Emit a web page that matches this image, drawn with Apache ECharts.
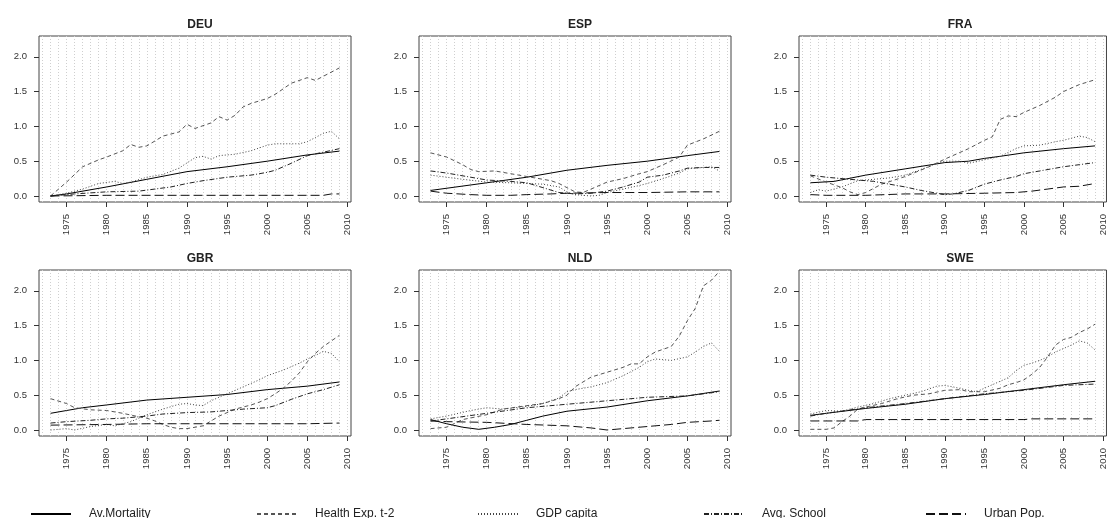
<!DOCTYPE html>
<html>
<head>
<meta charset="utf-8">
<script src="https://cdn.jsdelivr.net/npm/echarts@6/dist/echarts.min.js"></script>
<style>
  html, body { margin: 0; padding: 0; background: #fff; }
  #chart { width: 1108px; height: 518px; }
</style>
</head>
<body>
<div id="chart"></div>
<script>
// 国家与指标
const countries = ['DEU', 'ESP', 'FRA', 'GBR', 'NLD', 'SWE']
const seriesNames = ['Av.Mortality', 'Health Exp. t-2', 'GDP capita', 'Avg. School', 'Urban Pop.']
const gridYears = [1972, 1973, 1974, 1975, 1976, 1977, 1978, 1979, 1980, 1981, 1982, 1983, 1984, 1985, 1986, 1987, 1988, 1989, 1990, 1991, 1992, 1993, 1994, 1995, 1996, 1997, 1998, 1999, 2000, 2001, 2002, 2003, 2004, 2005, 2006, 2007, 2008, 2009, 2010]
const xTickYears = [1975, 1980, 1985, 1990, 1995, 2000, 2005, 2010]
const yTicks = [0, 0.5, 1, 1.5, 2]

// DEU
const deuMort = [[1973, 0.0], [1975, 0.03], [1980, 0.13], [1985, 0.24], [1990, 0.35], [1995, 0.42], [2000, 0.5], [2005, 0.59], [2009, 0.645]]
const deuHealth = [[1973, 0.0], [1974, 0.1], [1975, 0.2], [1977, 0.42], [1979, 0.52], [1980, 0.56], [1982, 0.65], [1983, 0.74], [1984, 0.7], [1985, 0.72], [1987, 0.86], [1989, 0.92], [1990, 1.03], [1991, 0.97], [1993, 1.05], [1994, 1.14], [1995, 1.09], [1996, 1.16], [1997, 1.28], [1998, 1.33], [2000, 1.4], [2001, 1.46], [2003, 1.62], [2005, 1.7], [2006, 1.66], [2007, 1.72], [2009, 1.84]]
const deuGdp = [[1973, 0.0], [1975, 0.04], [1977, 0.1], [1979, 0.18], [1981, 0.21], [1982, 0.18], [1983, 0.2], [1985, 0.27], [1987, 0.31], [1989, 0.4], [1991, 0.55], [1992, 0.57], [1993, 0.53], [1994, 0.58], [1996, 0.6], [1998, 0.65], [2000, 0.73], [2001, 0.75], [2004, 0.75], [2005, 0.78], [2006, 0.84], [2007, 0.9], [2008, 0.93], [2009, 0.82]]
const deuSchool = [[1973, 0.0], [1976, 0.03], [1980, 0.06], [1984, 0.07], [1986, 0.1], [1988, 0.13], [1990, 0.18], [1992, 0.22], [1995, 0.27], [1998, 0.3], [2000, 0.34], [2001, 0.37], [2003, 0.47], [2005, 0.58], [2007, 0.63], [2009, 0.68]]
const deuUrban = [[1973, 0.0], [1980, 0.01], [1990, 0.01], [2000, 0.01], [2007, 0.01], [2008, 0.03], [2009, 0.03]]

// ESP
const espMort = [[1973, 0.08], [1980, 0.19], [1985, 0.27], [1990, 0.37], [1995, 0.44], [2000, 0.5], [2005, 0.58], [2009, 0.64]]
const espHealth = [[1973, 0.62], [1975, 0.56], [1977, 0.45], [1978, 0.38], [1979, 0.35], [1981, 0.36], [1983, 0.32], [1985, 0.28], [1987, 0.24], [1988, 0.22], [1989, 0.18], [1990, 0.12], [1991, 0.06], [1992, 0.05], [1993, 0.1], [1995, 0.2], [1997, 0.25], [1999, 0.32], [2000, 0.35], [2002, 0.45], [2004, 0.56], [2005, 0.73], [2007, 0.82], [2009, 0.93]]
const espGdp = [[1973, 0.3], [1975, 0.27], [1977, 0.24], [1980, 0.2], [1983, 0.19], [1985, 0.18], [1987, 0.17], [1989, 0.13], [1990, 0.06], [1991, 0.02], [1993, 0.0], [1994, 0.01], [1995, 0.05], [1997, 0.1], [1999, 0.15], [2000, 0.18], [2002, 0.25], [2004, 0.33], [2005, 0.39], [2007, 0.41], [2008, 0.42], [2009, 0.36]]
const espSchool = [[1973, 0.36], [1975, 0.33], [1978, 0.27], [1980, 0.23], [1983, 0.21], [1985, 0.19], [1987, 0.12], [1989, 0.05], [1991, 0.03], [1993, 0.04], [1995, 0.07], [1997, 0.13], [1999, 0.2], [2000, 0.27], [2002, 0.3], [2004, 0.36], [2005, 0.4], [2007, 0.41], [2009, 0.41]]
const espUrban = [[1973, 0.07], [1975, 0.04], [1978, 0.02], [1980, 0.01], [1983, 0.01], [1985, 0.02], [1988, 0.03], [1990, 0.04], [1995, 0.05], [2000, 0.05], [2005, 0.06], [2009, 0.06]]

// FRA
const fraMort = [[1973, 0.19], [1976, 0.21], [1980, 0.3], [1985, 0.39], [1990, 0.48], [1993, 0.5], [1995, 0.54], [1997, 0.57], [2000, 0.62], [2005, 0.68], [2009, 0.72]]
const fraHealth = [[1973, 0.29], [1975, 0.2], [1977, 0.12], [1978, 0.06], [1979, 0.02], [1980, 0.05], [1982, 0.17], [1985, 0.28], [1988, 0.42], [1990, 0.53], [1993, 0.68], [1995, 0.8], [1996, 0.85], [1997, 1.1], [1998, 1.15], [1999, 1.14], [2000, 1.2], [2002, 1.3], [2004, 1.42], [2005, 1.5], [2007, 1.6], [2009, 1.67]]
const fraGdp = [[1973, 0.05], [1974, 0.09], [1975, 0.07], [1977, 0.13], [1979, 0.22], [1981, 0.24], [1983, 0.26], [1985, 0.3], [1987, 0.38], [1989, 0.47], [1990, 0.5], [1992, 0.5], [1993, 0.47], [1995, 0.52], [1997, 0.57], [1999, 0.68], [2000, 0.72], [2002, 0.73], [2004, 0.78], [2005, 0.8], [2007, 0.86], [2008, 0.84], [2009, 0.78]]
const fraSchool = [[1973, 0.3], [1975, 0.27], [1977, 0.25], [1979, 0.23], [1981, 0.21], [1983, 0.17], [1985, 0.13], [1987, 0.08], [1989, 0.04], [1990, 0.02], [1991, 0.03], [1993, 0.08], [1995, 0.17], [1997, 0.23], [1999, 0.28], [2000, 0.32], [2002, 0.36], [2005, 0.42], [2007, 0.45], [2009, 0.48]]
const fraUrban = [[1973, 0.02], [1975, 0.01], [1980, 0.01], [1985, 0.03], [1990, 0.03], [1995, 0.04], [1999, 0.05], [2001, 0.07], [2003, 0.1], [2005, 0.13], [2007, 0.14], [2009, 0.18]]

// GBR
const gbrMort = [[1973, 0.24], [1975, 0.28], [1977, 0.32], [1980, 0.36], [1985, 0.43], [1990, 0.47], [1995, 0.51], [2000, 0.58], [2005, 0.63], [2009, 0.69]]
const gbrHealth = [[1973, 0.45], [1975, 0.38], [1976, 0.32], [1978, 0.29], [1980, 0.28], [1982, 0.24], [1984, 0.19], [1985, 0.17], [1986, 0.13], [1987, 0.08], [1988, 0.04], [1989, 0.02], [1990, 0.02], [1991, 0.04], [1992, 0.06], [1994, 0.2], [1996, 0.3], [1998, 0.36], [1999, 0.4], [2000, 0.45], [2001, 0.52], [2002, 0.6], [2003, 0.7], [2004, 0.82], [2005, 0.98], [2006, 1.1], [2007, 1.2], [2008, 1.28], [2009, 1.36]]
const gbrGdp = [[1973, 0.0], [1975, 0.02], [1976, 0.0], [1978, 0.05], [1980, 0.08], [1981, 0.06], [1983, 0.12], [1985, 0.22], [1987, 0.3], [1989, 0.37], [1990, 0.38], [1991, 0.36], [1992, 0.35], [1993, 0.42], [1995, 0.52], [1997, 0.62], [1999, 0.72], [2000, 0.78], [2002, 0.86], [2004, 0.96], [2005, 1.02], [2006, 1.07], [2007, 1.13], [2008, 1.1], [2009, 0.98]]
const gbrSchool = [[1973, 0.1], [1975, 0.12], [1978, 0.14], [1980, 0.16], [1982, 0.17], [1985, 0.2], [1987, 0.23], [1990, 0.25], [1993, 0.26], [1995, 0.28], [1997, 0.3], [2000, 0.32], [2001, 0.35], [2003, 0.44], [2005, 0.52], [2007, 0.58], [2009, 0.65]]
const gbrUrban = [[1973, 0.07], [1980, 0.08], [1985, 0.09], [2000, 0.09], [2005, 0.09], [2009, 0.1]]

// NLD
const nldMort = [[1973, 0.15], [1975, 0.09], [1977, 0.04], [1979, 0.01], [1981, 0.04], [1983, 0.08], [1985, 0.14], [1987, 0.2], [1990, 0.27], [1995, 0.33], [2000, 0.42], [2005, 0.49], [2009, 0.56]]
const nldHealth = [[1973, 0.02], [1975, 0.04], [1977, 0.15], [1980, 0.22], [1982, 0.3], [1985, 0.35], [1987, 0.38], [1989, 0.45], [1990, 0.5], [1991, 0.62], [1993, 0.76], [1995, 0.83], [1997, 0.9], [1998, 0.95], [1999, 0.95], [2000, 1.05], [2001, 1.12], [2003, 1.2], [2004, 1.35], [2005, 1.57], [2006, 1.75], [2007, 2.07], [2008, 2.15], [2009, 2.28]]
const nldGdp = [[1973, 0.16], [1975, 0.2], [1978, 0.28], [1980, 0.32], [1982, 0.3], [1985, 0.34], [1987, 0.38], [1989, 0.46], [1990, 0.55], [1991, 0.58], [1993, 0.62], [1995, 0.68], [1997, 0.78], [1999, 0.9], [2000, 0.98], [2001, 1.02], [2003, 1.0], [2005, 1.05], [2006, 1.12], [2007, 1.2], [2008, 1.25], [2009, 1.13]]
const nldSchool = [[1973, 0.13], [1975, 0.16], [1980, 0.24], [1985, 0.32], [1990, 0.37], [1995, 0.42], [2000, 0.47], [2005, 0.49], [2009, 0.55]]
const nldUrban = [[1973, 0.13], [1975, 0.12], [1980, 0.11], [1985, 0.08], [1990, 0.06], [1993, 0.03], [1995, 0.0], [1997, 0.02], [2000, 0.05], [2003, 0.08], [2005, 0.11], [2008, 0.13], [2009, 0.14]]

// SWE
const sweMort = [[1973, 0.21], [1975, 0.24], [1980, 0.31], [1985, 0.37], [1990, 0.45], [1995, 0.51], [2000, 0.58], [2005, 0.65], [2009, 0.7]]
const sweHealth = [[1973, 0.01], [1975, 0.01], [1976, 0.03], [1977, 0.12], [1978, 0.2], [1979, 0.3], [1980, 0.33], [1982, 0.38], [1984, 0.45], [1986, 0.5], [1988, 0.52], [1990, 0.57], [1992, 0.58], [1993, 0.55], [1995, 0.55], [1997, 0.6], [1998, 0.65], [1999, 0.68], [2000, 0.72], [2001, 0.8], [2002, 0.9], [2003, 1.05], [2004, 1.22], [2005, 1.3], [2006, 1.33], [2007, 1.4], [2008, 1.45], [2009, 1.52]]
const sweGdp = [[1973, 0.23], [1975, 0.28], [1977, 0.27], [1979, 0.33], [1981, 0.38], [1983, 0.45], [1985, 0.5], [1987, 0.55], [1989, 0.63], [1990, 0.64], [1991, 0.62], [1993, 0.57], [1994, 0.55], [1995, 0.6], [1996, 0.65], [1997, 0.7], [1998, 0.75], [1999, 0.85], [2000, 0.93], [2001, 0.96], [2002, 1.0], [2003, 1.05], [2004, 1.12], [2005, 1.17], [2006, 1.22], [2007, 1.28], [2008, 1.25], [2009, 1.15]]
const sweSchool = [[1973, 0.2], [1975, 0.24], [1980, 0.32], [1985, 0.38], [1990, 0.45], [1995, 0.52], [2000, 0.57], [2005, 0.64], [2009, 0.66]]
const sweUrban = [[1973, 0.13], [1979, 0.13], [1980, 0.15], [2000, 0.15], [2001, 0.16], [2009, 0.16]]

const panelData = {
    DEU: [deuMort, deuHealth, deuGdp, deuSchool, deuUrban],
    ESP: [espMort, espHealth, espGdp, espSchool, espUrban],
    FRA: [fraMort, fraHealth, fraGdp, fraSchool, fraUrban],
    GBR: [gbrMort, gbrHealth, gbrGdp, gbrSchool, gbrUrban],
    NLD: [nldMort, nldHealth, nldGdp, nldSchool, nldUrban],
    SWE: [sweMort, sweHealth, sweGdp, sweSchool, sweUrban]
}

// 线型
const lineStyles = [
    { color: '#000', type: 'solid', width: 1 },
    { color: '#555', type: [4, 3], width: 1 },
    { color: '#444', type: [1, 2], width: 1 },
    { color: '#222', type: [5, 2, 1, 2], width: 1 },
    { color: '#111', type: [9, 4], width: 1 }
]

const FONT = 'Liberation Sans, Arial, sans-serif'
const panelLefts = [39, 419, 799]
const panelTops = [36, 270]
const panelW = 312
const panelH = 166
const xMin = 1971.56
const xMax = 2010.44
const yMin = -0.086
const yMax = 2.298

const grid = []
const xAxis = []
const yAxis = []
const title = []
const series = []

countries.forEach((c, i) => {
    const left = panelLefts[i % 3]
    const top = panelTops[Math.floor(i / 3)]
    grid.push({ left, top, width: panelW, height: panelH, show: true, borderColor: '#444', borderWidth: 1, backgroundColor: 'transparent', containLabel: false })
    title.push({
        text: c,
        left: left + panelW / 2,
        top: top - 22,
        textAlign: 'center',
        textStyle: { fontFamily: FONT, fontSize: 12, fontWeight: 'bold', color: '#222' }
    })
    // 年份网格线
    xAxis.push({
        gridIndex: i, type: 'value', min: xMin, max: xMax, position: 'bottom',
        axisLine: { show: false, onZero: false },
        axisTick: { show: false, customValues: gridYears },
        axisLabel: { show: false },
        splitLine: { show: true, lineStyle: { color: '#cfcfcf', type: [1, 2], width: 1 } }
    })
    // 刻度与标签
    xAxis.push({
        gridIndex: i, type: 'value', min: xMin, max: xMax, position: 'bottom',
        axisLine: { show: false, onZero: false },
        axisTick: { show: true, length: 5, customValues: xTickYears, lineStyle: { color: '#333' } },
        axisLabel: { customValues: xTickYears, formatter: (v) => String(v), rotate: 90, fontFamily: FONT, fontSize: 9.5, color: '#333', margin: 12 },
        splitLine: { show: false }
    })
    yAxis.push({
        gridIndex: i, type: 'value', min: yMin, max: yMax,
        axisLine: { show: false, onZero: false },
        axisTick: { show: true, length: 5, customValues: yTicks, lineStyle: { color: '#333' } },
        axisLabel: { customValues: yTicks, formatter: (v) => v.toFixed(1), fontFamily: FONT, fontSize: 9.5, color: '#333', margin: 12 },
        splitLine: { show: false }
    })
    panelData[c].forEach((data, k) => {
        series.push({
            name: seriesNames[k],
            type: 'line',
            xAxisIndex: i * 2,
            yAxisIndex: i,
            data,
            symbol: 'none',
            showSymbol: false,
            lineStyle: lineStyles[k],
            itemStyle: { color: lineStyles[k].color },
            silent: true
        })
    })
})

// 图例：每项单独定位
const legendLefts = [25, 251, 472, 698, 920]
const legend = seriesNames.map((name, k) => ({
    data: [name],
    left: legendLefts[k],
    top: 503,
    itemWidth: 40,
    itemHeight: 10,
    selectedMode: false,
    itemStyle: { opacity: 0 },
    textStyle: { fontFamily: FONT, fontSize: 12, color: '#222', padding: [0, 0, 0, 13] }
}))

const chart = echarts.init(document.getElementById('chart'))
chart.setOption({
    animation: false,
    backgroundColor: '#fff',
    title,
    grid,
    xAxis,
    yAxis,
    legend,
    series
})
</script>
</body>
</html>
